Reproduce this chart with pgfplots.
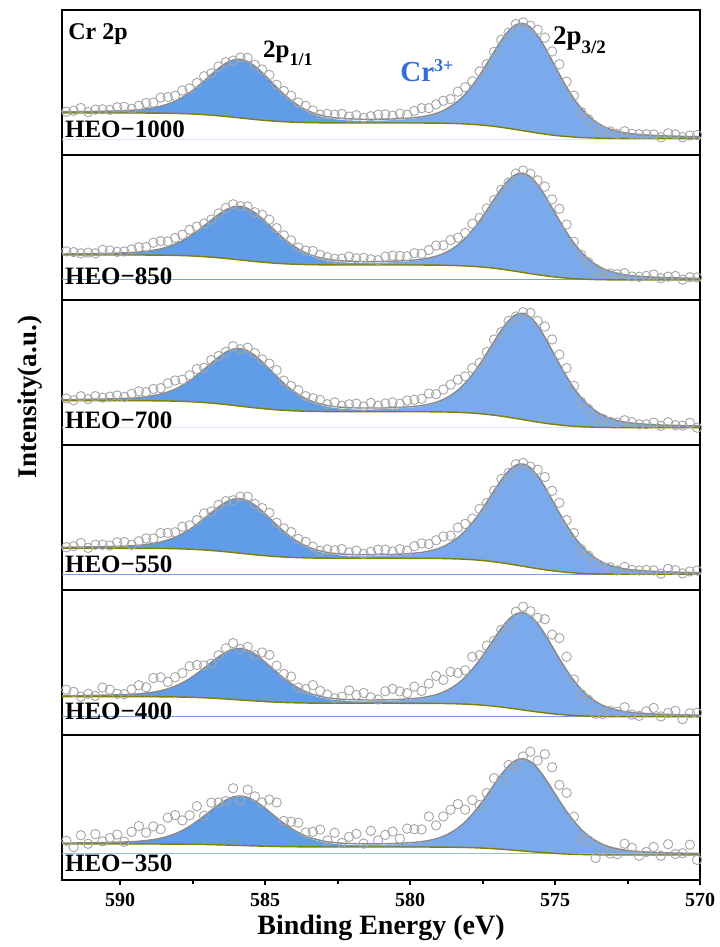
\documentclass[border=0pt]{standalone}
\usepackage{fontspec}
\setmainfont{Liberation Serif}
\usepackage{pgfplots}
\pgfplotsset{compat=1.18}
\usepackage{pgfplotstable}
\usepgfplotslibrary{fillbetween}

\definecolor{pkA}{RGB}{68,139,228}
\definecolor{pkB}{RGB}{99,155,233}
\definecolor{envc}{RGB}{135,135,135}
\definecolor{bgc}{RGB}{128,128,0}
\definecolor{datc}{RGB}{165,165,165}
\definecolor{crblue}{RGB}{47,111,214}
\definecolor{blA}{RGB}{110,160,235}
\definecolor{blB}{RGB}{215,228,245}
\definecolor{blC}{RGB}{150,190,245}

% E: binding energy; P1,P2: unit peak profiles (2p1/2, 2p3/2);
% S1,S2: unit background steps; R: systematic residual; N1..N3: scatter
\pgfplotstableread{
E P1 P2 S1 S2 R N1 N2 N3
592.10 0.014 0.002 1 1 1 1 -1 2
591.85 0.016 0.002 1 1 1 -1 2 0
591.60 0.017 0.002 1 1 1 0 1 -2
591.35 0.018 0.003 1 1 2 2 -2 1
591.10 0.020 0.003 1 1 1 -2 0 -1
590.85 0.022 0.003 1 1 1 1 -1 2
590.60 0.024 0.003 1 1 2 0 2 -1
590.35 0.027 0.003 1 1 2 -1 1 0
590.10 0.031 0.003 1 1 2 2 -1 1
589.85 0.036 0.003 0.999 1 3 1 -2 -2
589.60 0.042 0.003 0.998 1 3 -2 0 1
589.35 0.051 0.003 0.997 1 4 0 1 2
589.10 0.065 0.004 0.994 1 5 1 -1 -1
588.85 0.084 0.004 0.990 1 6 -1 2 0
588.60 0.112 0.004 0.983 1 7 2 1 -2
588.35 0.152 0.004 0.973 1 7 0 -2 1
588.10 0.204 0.004 0.958 1 7 -2 -1 1
587.85 0.273 0.004 0.938 1 6 1 0 -1
587.60 0.359 0.004 0.911 1 5 -1 2 0
587.35 0.460 0.005 0.876 1 4 0 1 2
587.10 0.574 0.005 0.832 1 3 2 -1 -2
586.85 0.693 0.005 0.779 1 2 -1 -2 1
586.60 0.809 0.005 0.718 1 1 1 0 0
586.35 0.908 0.006 0.650 1 1 0 1 -1
586.10 0.976 0.006 0.576 1 1 -2 2 2
585.85 1.000 0.006 0.500 1 1 1 -1 -2
585.60 0.976 0.006 0.424 1 2 2 0 1
585.35 0.908 0.007 0.350 1 2 -1 -2 0
585.10 0.809 0.007 0.282 1 3 0 1 -1
584.85 0.693 0.008 0.221 1 4 1 2 1
584.60 0.574 0.008 0.168 1 4 -2 0 2
584.35 0.460 0.008 0.124 1 4 -1 -1 -2
584.10 0.359 0.009 0.089 1 3 2 1 0
583.85 0.273 0.010 0.062 1 3 0 -2 1
583.60 0.204 0.010 0.042 1 3 1 -1 -1
583.35 0.152 0.011 0.027 1 3 -1 2 0
583.10 0.112 0.012 0.017 1 2 -2 1 2
582.85 0.084 0.012 0.010 1 2 1 0 -1
582.60 0.065 0.013 0.006 1 3 0 -2 1
582.35 0.051 0.014 0.003 1 3 2 -1 -2
582.10 0.042 0.016 0.002 1 3 -1 2 0
581.85 0.036 0.017 0.001 1 3 1 0 1
581.60 0.031 0.018 0 1 3 -2 1 -2
581.35 0.027 0.020 0 1 3 0 -1 2
581.10 0.024 0.022 0 1 3 2 -2 -1
580.85 0.022 0.024 0 1 4 1 1 0
580.60 0.020 0.027 0 1 4 -1 2 1
580.35 0.018 0.031 0 1 5 0 0 -2
580.10 0.017 0.036 0 0.999 5 -2 -1 1
579.85 0.016 0.042 0 0.998 6 1 1 0
579.60 0.014 0.051 0 0.997 7 2 -2 -1
579.35 0.013 0.065 0 0.994 8 -1 0 2
579.10 0.012 0.084 0 0.990 9 0 2 -2
578.85 0.012 0.112 0 0.983 9 1 -1 0
578.60 0.011 0.152 0 0.973 9 -2 1 1
578.35 0.010 0.204 0 0.958 8 2 -1 2
578.10 0.010 0.273 0 0.938 7 0 -2 -1
577.85 0.009 0.359 0 0.911 5 -1 2 1
577.60 0.008 0.460 0 0.876 3 1 0 -2
577.35 0.008 0.574 0 0.832 1 -2 1 0
577.10 0.008 0.693 0 0.779 0 0 -1 2
576.85 0.007 0.809 0 0.718 -1 2 0 -1
576.60 0.007 0.908 0 0.650 -1 -1 -2 1
576.35 0.006 0.976 0 0.576 0 1 1 -2
576.10 0.006 1.000 0 0.500 1 0 2 0
575.85 0.006 0.976 0 0.424 3 -2 0 1
575.60 0.006 0.908 0 0.350 5 1 -1 -1
575.35 0.005 0.809 0 0.282 8 2 1 2
575.10 0.005 0.693 0 0.221 10 -1 -2 0
574.85 0.005 0.574 0 0.168 10 0 2 -2
574.60 0.005 0.460 0 0.124 7 -2 1 1
574.35 0.004 0.359 0 0.089 2 1 -1 0
574.10 0.004 0.273 0 0.062 -3 -1 0 -1
573.85 0.004 0.204 0 0.042 -5 2 2 2
573.60 0.004 0.152 0 0.027 -5 0 -2 -2
573.35 0.004 0.112 0 0.017 -4 -1 -1 1
573.10 0.004 0.084 0 0.010 -3 1 1 0
572.85 0.004 0.065 0 0.006 -1 -2 0 -1
572.60 0.003 0.051 0 0.003 0 2 2 2
572.35 0.003 0.042 0 0.002 0 0 -1 1
572.10 0.003 0.036 0 0.001 1 -1 -2 -2
571.85 0.003 0.031 0 0 0 1 1 0
571.60 0.003 0.027 0 0 1 0 2 1
571.35 0.003 0.024 0 0 0 -2 -1 -1
571.10 0.003 0.022 0 0 1 2 0 2
570.85 0.003 0.020 0 0 1 1 1 -1
570.60 0.003 0.018 0 0 0 -1 -2 0
570.35 0.002 0.017 0 0 1 0 0 2
570.10 0.002 0.016 0 0 0 2 1 -2
569.85 0.002 0.014 0 0 1 -1 -1 1
}\crdata

\pgfplotsset{
  panel/.style={anchor=south west, width=638bp, height=145bp, scale only axis,
    x dir=reverse, xmin=570, xmax=592, ymin=0, ymax=145,
    xtick=\empty, ytick=\empty, axis line style={line width=2.5bp}},
}

% #1 bottom y, #2 label, #3 label baseline, #4 scatter column, #5 axis options, #6 extra content
\newcommand{\crpanel}[6]{%
\begin{axis}[panel, at={(62bp,#1bp)}, #5]
\addplot[only marks, mark=o, mark size=4.7bp, mark options={draw=datc, line width=0.9bp}]
  table[x=E, y expr=\Pbz+\Psa*\thisrow{S1}+\Psb*\thisrow{S2}+\Ppa*\thisrow{P1}+\Ppb*\thisrow{P2}+\Pf*\thisrow{R}+\Pg*\thisrow{#4}] {\crdata};
\addplot[draw=none, name path=bg, smooth]
  table[x=E, y expr=\Pbz+\Psa*\thisrow{S1}+\Psb*\thisrow{S2}] {\crdata};
\addplot[draw=none, name path=pa, smooth]
  table[x=E, y expr=\Pbz+\Psa*\thisrow{S1}+\Psb*\thisrow{S2}+\Ppa*\thisrow{P1}] {\crdata};
\addplot[draw=none, name path=pb, smooth]
  table[x=E, y expr=\Pbz+\Psa*\thisrow{S1}+\Psb*\thisrow{S2}+\Ppb*\thisrow{P2}] {\crdata};
\addplot[pkA, fill opacity=0.85] fill between[of=pa and bg];
\addplot[pkB, fill opacity=0.85] fill between[of=pb and bg];
\addplot[draw=\Pblc, line width=1bp] coordinates {(592,\Pbl) (570,\Pbl)};
\addplot[envc, line width=1.4bp, smooth]
  table[x=E, y expr=\Pbz+\Psa*\thisrow{S1}+\Psb*\thisrow{S2}+\Ppa*\thisrow{P1}+\Ppb*\thisrow{P2}] {\crdata};
\addplot[bgc, line width=1.4bp, smooth]
  table[x=E, y expr=\Pbz+\Psa*\thisrow{S1}+\Psb*\thisrow{S2}] {\crdata};
\node[anchor=base west, inner sep=0pt, font=\fontsize{25bp}{25bp}\selectfont\bfseries] at (axis cs:591.9,#3) {#2};
#6
\end{axis}}

\begin{document}
\begin{tikzpicture}

% HEO-1000
\def\Pbz{16.5}\def\Psa{10}\def\Psb{15.5}\def\Ppa{58}\def\Ppb{107}\def\Pf{1}\def\Pg{0.8}\def\Pbl{15}\def\Pblc{blB}
\crpanel{792}{HEO−1000}{17}{N1}{}{%
\node[anchor=base west, inner sep=0pt, font=\fontsize{24bp}{24bp}\selectfont\bfseries] at (axis cs:591.79,115) {Cr 2p};
\node[anchor=base west, inner sep=0pt, font=\fontsize{25bp}{25bp}\selectfont\bfseries] at (axis cs:585.07,97) {2p\raisebox{-8bp}{\fontsize{18bp}{18bp}\selectfont 1/1}};
\node[anchor=base west, inner sep=0pt, text=crblue, font=\fontsize{29bp}{29bp}\selectfont\bfseries] at (axis cs:580.34,73.3) {Cr\raisebox{10bp}{\fontsize{18bp}{18bp}\selectfont 3+}};
\node[anchor=base west, inner sep=0pt, font=\fontsize{27bp}{27bp}\selectfont\bfseries] at (axis cs:575.07,110) {2p\raisebox{-9bp}{\fontsize{19bp}{19bp}\selectfont 3/2}};
}

% HEO-850
\def\Pbz{20}\def\Psa{10}\def\Psb{15}\def\Ppa{53}\def\Ppb{99}\def\Pf{1}\def\Pg{0.8}\def\Pbl{20}\def\Pblc{blA}
\crpanel{647}{HEO−850}{15.5}{N2}{}{}

% HEO-700
\def\Pbz{17.3}\def\Psa{11}\def\Psb{16}\def\Ppa{57}\def\Ppb{106}\def\Pf{1.1}\def\Pg{0.9}\def\Pbl{17}\def\Pblc{blB}
\crpanel{502}{HEO−700}{16.7}{N3}{ylabel={Intensity(a.u.)},
  ylabel style={at={(axis description cs:-0.0502,0.331)}, anchor=center,
  font=\fontsize{27bp}{27bp}\selectfont\bfseries}}{}

% HEO-550
\def\Pbz{15.7}\def\Psa{10}\def\Psb{16}\def\Ppa{54}\def\Ppb{102}\def\Pf{1}\def\Pg{1.0}\def\Pbl{15}\def\Pblc{blA}
\crpanel{357}{HEO−550}{17.3}{N1}{}{}

% HEO-400
\def\Pbz{18.3}\def\Psa{6.6}\def\Psb{13.4}\def\Ppa{51}\def\Ppb{97}\def\Pf{1.6}\def\Pg{2.2}\def\Pbl{18}\def\Pblc{blA}
\crpanel{212}{HEO−400}{15}{N2}{}{}

% HEO-350
\def\Pbz{25}\def\Psa{3}\def\Psb{8}\def\Ppa{49}\def\Ppb{92}\def\Pf{2.2}\def\Pg{3.2}\def\Pbl{26}\def\Pblc{blC}
\crpanel{67}{HEO−350}{8.5}{N3}{%
  xtick={570,575,580,585,590}, minor xtick={572.5,577.5,582.5,587.5},
  tick align=outside, xtick pos=bottom,
  major tick length=5bp, minor tick length=4bp,
  every tick/.style={black, line width=2bp},
  /pgf/number format/assume math mode=true,
  xticklabel style={font=\fontsize{20bp}{20bp}\selectfont\bfseries, yshift=-5bp},
  xlabel={Binding Energy (eV)},
  xlabel style={at={(axis description cs:0.5,-0.378)}, anchor=base,
    font=\fontsize{28bp}{28bp}\selectfont\bfseries}}{}

\pgfresetboundingbox
\path[use as bounding box] (0,0) rectangle (720bp,947bp);
\end{tikzpicture}
\end{document}
